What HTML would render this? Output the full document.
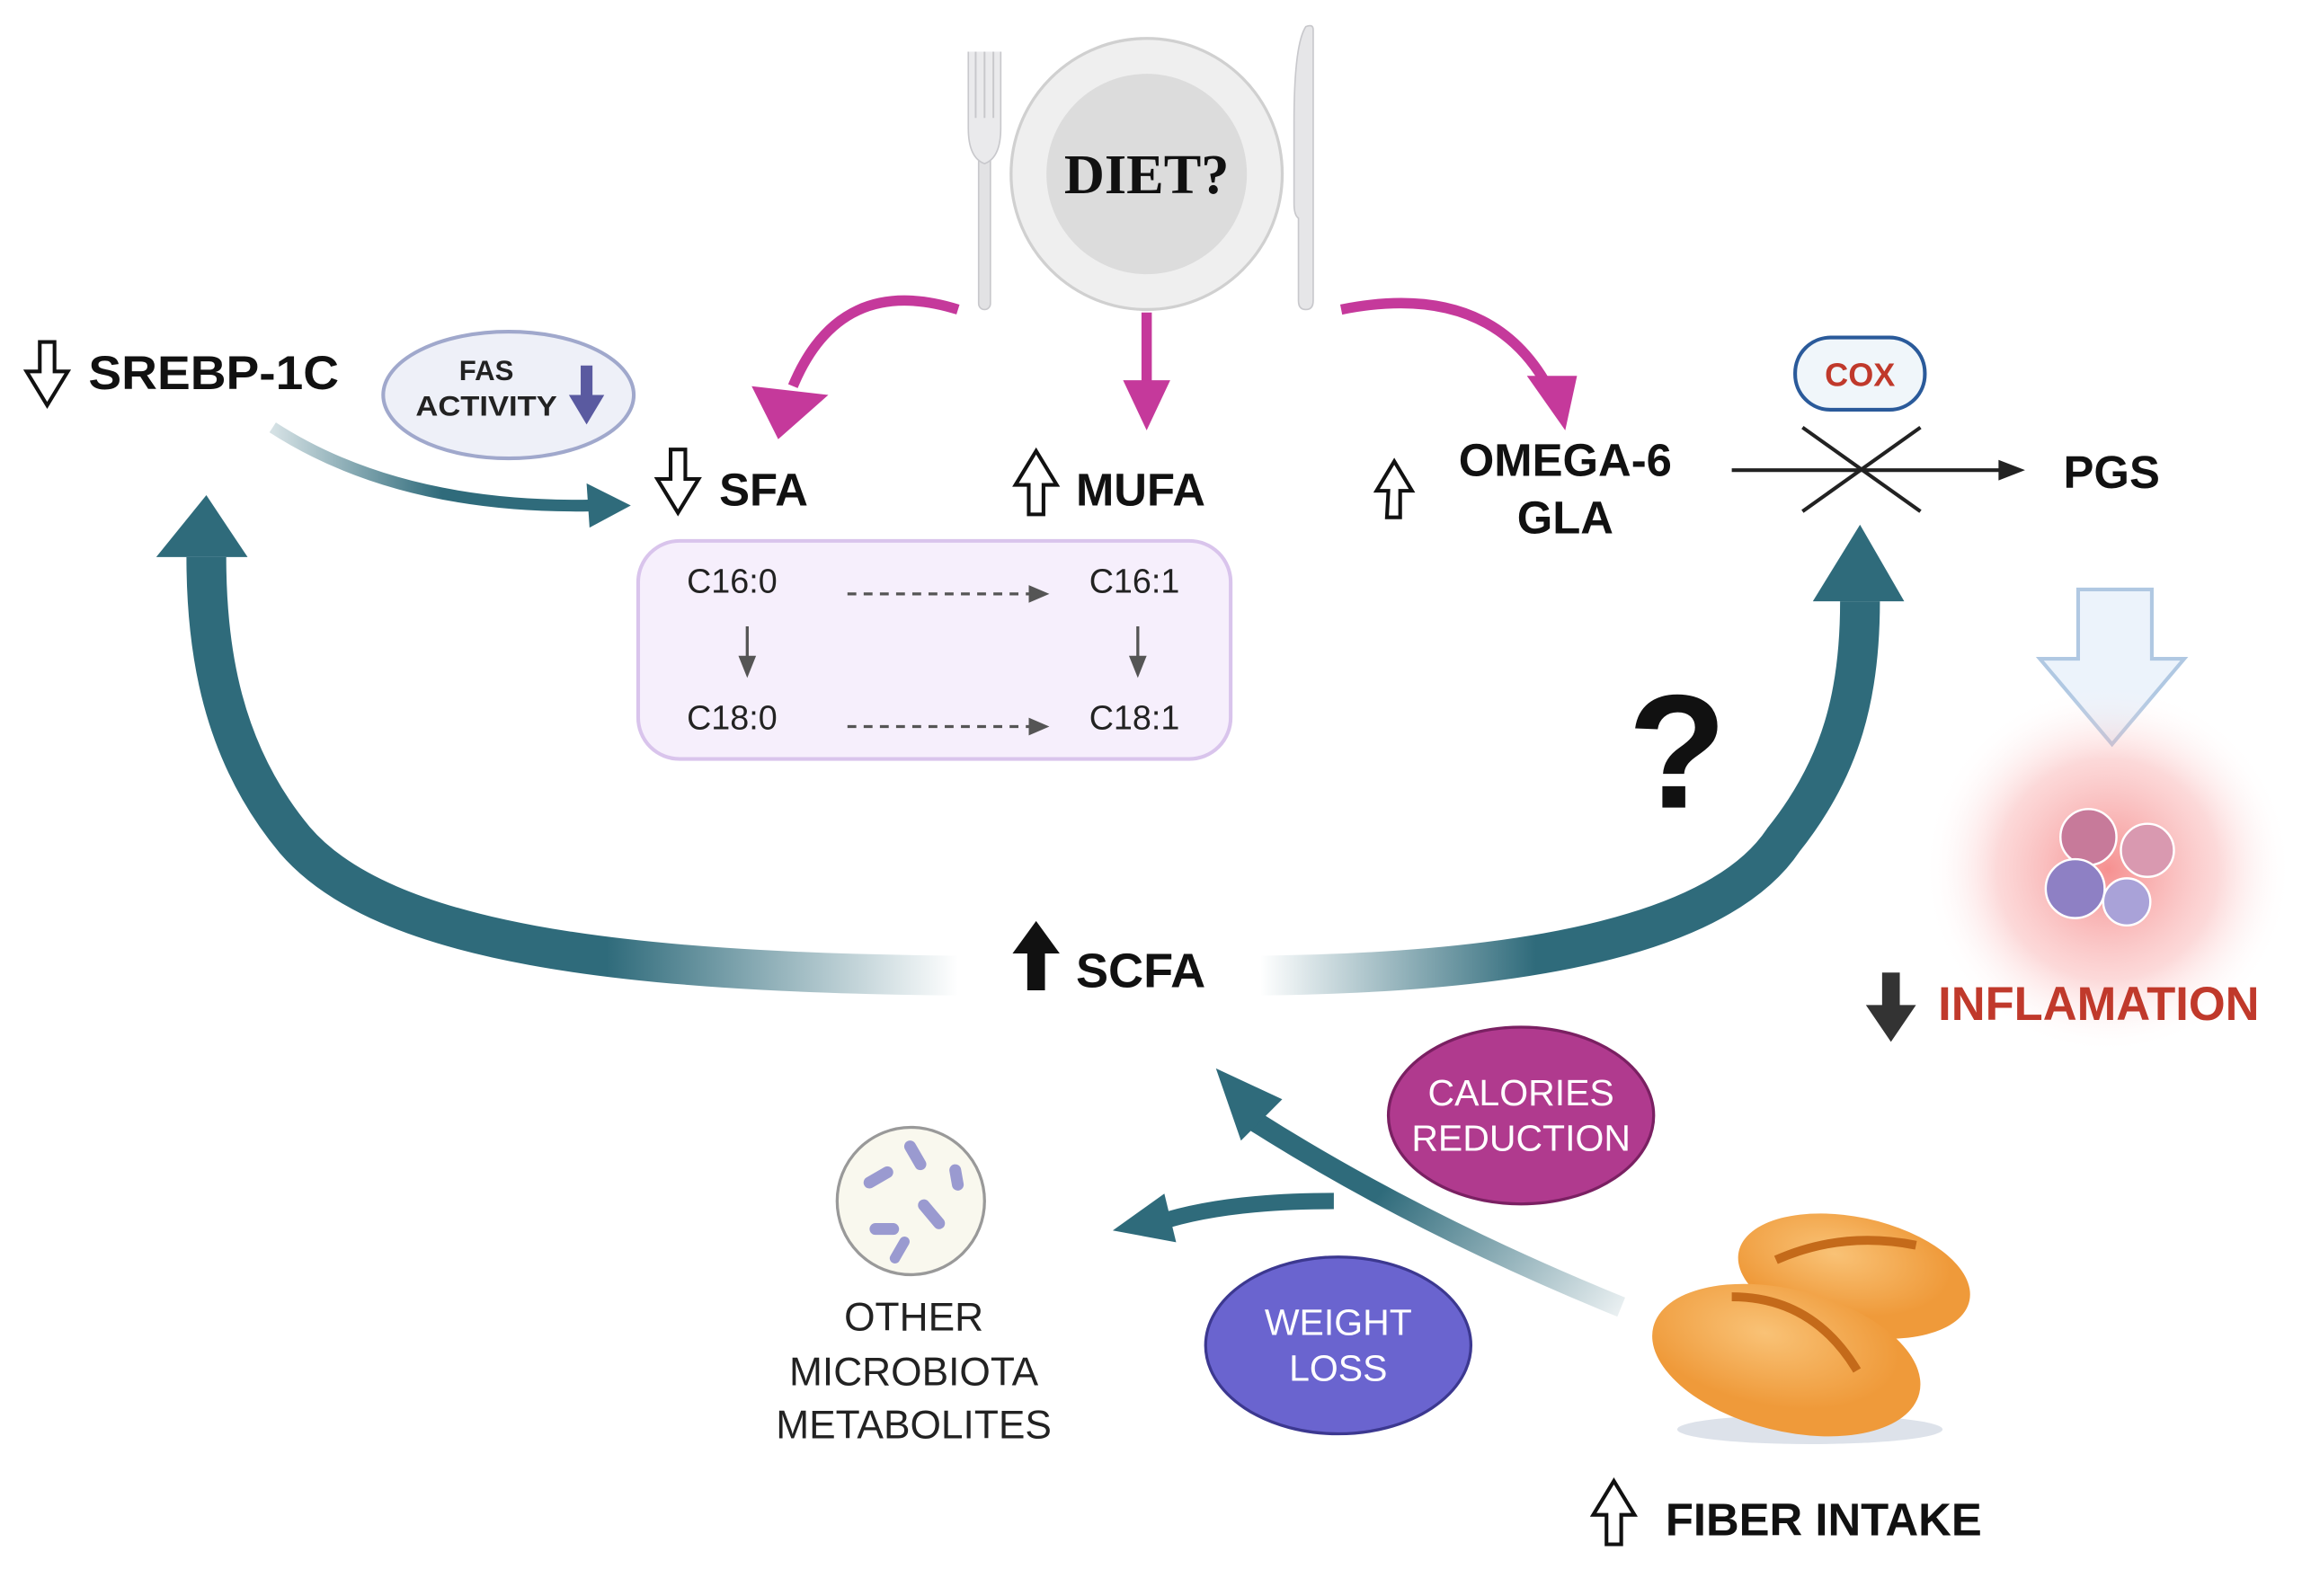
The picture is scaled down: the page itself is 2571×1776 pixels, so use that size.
<!DOCTYPE html>
<html><head><meta charset="utf-8"><style>
html,body{margin:0;padding:0;background:#fff}
svg{display:block}
text{font-family:"Liberation Sans",sans-serif}
</style></head><body>
<svg width="2571" height="1776" viewBox="0 0 1568 1083" xmlns="http://www.w3.org/2000/svg">
<defs>
<linearGradient id="gl" x1="650" y1="0" x2="120" y2="0" gradientUnits="userSpaceOnUse">
<stop offset="0" stop-color="#2f6b7b" stop-opacity="0"/><stop offset="0.45" stop-color="#2f6b7b"/><stop offset="1" stop-color="#2f6b7b"/></linearGradient>
<linearGradient id="gr" x1="855" y1="0" x2="1270" y2="0" gradientUnits="userSpaceOnUse">
<stop offset="0" stop-color="#2f6b7b" stop-opacity="0"/><stop offset="0.45" stop-color="#2f6b7b"/><stop offset="1" stop-color="#2f6b7b"/></linearGradient>
<linearGradient id="gb" x1="1100" y1="890" x2="960" y2="780" gradientUnits="userSpaceOnUse">
<stop offset="0" stop-color="#2f6b7b" stop-opacity="0.1"/><stop offset="1" stop-color="#2f6b7b"/></linearGradient>
<linearGradient id="gs" x1="185" y1="0" x2="300" y2="0" gradientUnits="userSpaceOnUse">
<stop offset="0" stop-color="#2f6b7b" stop-opacity="0.2"/><stop offset="1" stop-color="#2f6b7b"/></linearGradient>
<radialGradient id="glow"><stop offset="0" stop-color="#f26b6b" stop-opacity="0.75"/><stop offset="0.6" stop-color="#f8a0a0" stop-opacity="0.4"/><stop offset="1" stop-color="#fff" stop-opacity="0"/></radialGradient>
<radialGradient id="bread" cx="0.4" cy="0.35"><stop offset="0" stop-color="#f9c276"/><stop offset="1" stop-color="#ef9a3a"/></radialGradient>
</defs>

<!-- fork -->
<rect x="664" y="100" width="8" height="110" rx="4" fill="#e2e2e4" stroke="#c8c8cc"/>
<path d="M657 35 v52 q0 20 11 24 q11 -4 11 -24 v-52" fill="#eaeaec" stroke="#c8c8cc"/>
<g stroke="#c8c8cc" stroke-width="1.2"><line x1="662" y1="35" x2="662" y2="80"/><line x1="668" y1="35" x2="668" y2="80"/><line x1="674" y1="35" x2="674" y2="80"/></g>
<!-- plate -->
<circle cx="778" cy="118" r="92" fill="#efefef" stroke="#d0d0d0" stroke-width="2"/>
<circle cx="778" cy="118" r="68" fill="#dcdcdc"/>
<text x="778" y="131" font-weight="bold" font-size="38" text-anchor="middle" fill="#111" style="font-family:'Liberation Serif',serif">DIET?</text>
<!-- knife -->
<path d="M886 18 q-8 12 -8 65 v55 q0 8 3 10 v56 q0 6 5 6 q5 0 5 -6 v-184 q0 -4 -5 -2z" fill="#e6e6e8" stroke="#c8c8cc"/>

<!-- magenta arrows -->
<g fill="none" stroke="#c5399b" stroke-width="7">
<path d="M650 210 Q570 185 538 262"/>
<path d="M778 212 V262"/>
<path d="M910 210 Q1010 190 1050 262"/>
</g>
<g fill="#c5399b">
<polygon points="510,262 562,268 528,298"/>
<polygon points="762,258 794,258 778,292"/>
<polygon points="1036,255 1070,255 1062,292"/>
</g>

<!-- SREBP -->
<path d="M27 232 h10 v20 h9 l-14 23 l-14 -23 h9 z" fill="#fff" stroke="#111" stroke-width="2.5"/>
<text x="60" y="264" font-weight="bold" font-size="32" fill="#111" textLength="170" lengthAdjust="spacingAndGlyphs">SREBP-1C</text>
<ellipse cx="345" cy="268" rx="85" ry="43" fill="#eef0f8" stroke="#a0a8cc" stroke-width="2.5"/>
<text x="330" y="258" font-size="19" font-weight="bold" text-anchor="middle" fill="#222">FAS</text>
<text x="330" y="282" font-size="19" font-weight="bold" text-anchor="middle" fill="#222" textLength="96" lengthAdjust="spacingAndGlyphs">ACTIVITY</text>
<path d="M394 248 h8 v20 h8 l-12 20 l-12 -20 h8z" fill="#5a5aa0"/>
<path d="M185 290 Q270 345 400 343" fill="none" stroke="url(#gs)" stroke-width="8"/>
<polygon points="398,328 428,343 400,358" fill="#2f6b7b"/>

<!-- SFA MUFA -->
<path d="M455 305 h10 v20 h9 l-14 23 l-14 -23 h9 z" fill="#fff" stroke="#111" stroke-width="2.5"/>
<text x="488" y="343" font-weight="bold" font-size="31" fill="#111">SFA</text>
<path d="M698 349 h10 v-20 h9 l-14 -23 l-14 23 h9 z" fill="#fff" stroke="#111" stroke-width="2.5"/>
<text x="730" y="343" font-weight="bold" font-size="31" fill="#111">MUFA</text>

<rect x="433" y="367" width="402" height="148" rx="28" fill="#f6effc" stroke="#d9c4ec" stroke-width="2.5"/>
<g font-size="23" fill="#222">
<text x="466" y="402">C16:0</text><text x="739" y="402">C16:1</text>
<text x="466" y="495">C18:0</text><text x="739" y="495">C18:1</text>
</g>
<g stroke="#555" stroke-width="2" stroke-dasharray="6,5"><line x1="575" y1="403" x2="700" y2="403"/><line x1="575" y1="493" x2="700" y2="493"/></g>
<g fill="#555"><polygon points="698,397 712,403 698,409"/><polygon points="698,487 712,493 698,499"/>
<polygon points="501,445 513,445 507,460"/><polygon points="766,445 778,445 772,460"/></g>
<g stroke="#555" stroke-width="2"><line x1="507" y1="425" x2="507" y2="447"/><line x1="772" y1="425" x2="772" y2="447"/></g>

<!-- omega -->
<path d="M941 351 h9 v-18 h8 l-12 -20 l-12 20 h8 z" fill="#fff" stroke="#111" stroke-width="2.5"/>
<text x="1062" y="323" font-weight="bold" font-size="31" text-anchor="middle" fill="#111">OMEGA-6</text>
<text x="1062" y="362" font-weight="bold" font-size="31" text-anchor="middle" fill="#111">GLA</text>
<rect x="1218" y="229" width="88" height="49" rx="24" fill="#f0f6fa" stroke="#2a5a9a" stroke-width="2.5"/>
<text x="1262" y="262" font-size="22" font-weight="bold" text-anchor="middle" fill="#c0392b">COX</text>
<line x1="1175" y1="319" x2="1360" y2="319" stroke="#222" stroke-width="2.5"/>
<polygon points="1356,312 1374,319 1356,326" fill="#222"/>
<g stroke="#222" stroke-width="2.5"><line x1="1223" y1="290" x2="1303" y2="347"/><line x1="1223" y1="347" x2="1303" y2="290"/></g>
<text x="1400" y="331" font-weight="bold" font-size="31" fill="#111">PGS</text>

<path d="M1410 400 h50 v47 h22 l-49 58 l-49 -58 h26 z" fill="#ecf3fb" stroke="#b0c8e2" stroke-width="2.5"/>
<circle cx="1430" cy="590" r="125" fill="url(#glow)"/>
<g stroke="#fff" stroke-width="1.5">
<circle cx="1417" cy="568" r="19" fill="#c77a9a"/>
<circle cx="1457" cy="577" r="18" fill="#d999b0"/>
<circle cx="1408" cy="603" r="20" fill="#8e80c4"/>
<circle cx="1443" cy="612" r="16" fill="#a9a2d8"/>
</g>
<path d="M1277 660 h12 v22 h11 l-17 25 l-17 -25 h11 z" fill="#333"/>
<text x="1315" y="692" font-weight="bold" font-size="32" fill="#c0392b">INFLAMATION</text>

<!-- big teal arrows -->
<path d="M650 662 C420 660 260 640 200 570 C150 510 140 440 140 378" fill="none" stroke="url(#gl)" stroke-width="27"/>
<polygon points="106,378 168,378 140,336" fill="#2f6b7b"/>
<path d="M855 662 C1050 660 1170 630 1210 570 C1250 520 1262 470 1262 408" fill="none" stroke="url(#gr)" stroke-width="27"/>
<polygon points="1230,408 1292,408 1262,356" fill="#2f6b7b"/>

<path d="M697 672 v-25 h-10 l16 -22 l16 22 h-10 v25 z" fill="#111"/>
<text x="730" y="670" font-weight="bold" font-size="33" fill="#111">SCFA</text>
<text x="1138" y="548" font-weight="bold" font-size="110" text-anchor="middle" fill="#111">?</text>

<!-- bottom -->
<path d="M1100 887 Q960 830 850 760" fill="none" stroke="url(#gb)" stroke-width="14"/>
<polygon points="825,725 870,746 842,774" fill="#2f6b7b"/>
<path d="M905 815 Q830 815 785 830" fill="none" stroke="#2f6b7b" stroke-width="11"/>
<polygon points="755,835 790,810 798,843" fill="#2f6b7b"/>

<ellipse cx="1032" cy="757" rx="90" ry="60" fill="#b03a8e" stroke="#7a2062" stroke-width="2"/>
<text x="1032" y="750" font-size="25" text-anchor="middle" fill="#fff">CALORIES</text>
<text x="1032" y="781" font-size="25" text-anchor="middle" fill="#fff">REDUCTION</text>
<ellipse cx="908" cy="913" rx="90" ry="60" fill="#6a64cf" stroke="#3c3890" stroke-width="2"/>
<text x="908" y="906" font-size="25" text-anchor="middle" fill="#fff">WEIGHT</text>
<text x="908" y="937" font-size="25" text-anchor="middle" fill="#fff">LOSS</text>

<ellipse cx="618" cy="815" rx="50" ry="50" fill="#f9f8ee" stroke="#999" stroke-width="2"/>
<g fill="#9a9ad0">
<rect x="585" y="795" width="22" height="8" rx="4" transform="rotate(-30 596 799)"/>
<rect x="610" y="780" width="22" height="8" rx="4" transform="rotate(60 621 784)"/>
<rect x="620" y="820" width="24" height="8" rx="4" transform="rotate(50 632 824)"/>
<rect x="590" y="830" width="20" height="8" rx="4"/>
<rect x="640" y="795" width="18" height="8" rx="4" transform="rotate(80 649 799)"/>
<rect x="600" y="845" width="20" height="7" rx="3.5" transform="rotate(-60 610 848)"/>
</g>
<g font-size="27" text-anchor="middle" fill="#222">
<text x="620" y="903">OTHER</text><text x="620" y="940">MICROBIOTA</text><text x="620" y="976">METABOLITES</text>
</g>

<ellipse cx="1228" cy="970" rx="90" ry="10" fill="#dde2ea"/>
<ellipse cx="1258" cy="866" rx="80" ry="40" fill="url(#bread)" transform="rotate(12 1258 866)"/>
<path d="M1205 855 Q1250 835 1300 845" stroke="#c46a1a" stroke-width="6" fill="none"/>
<ellipse cx="1212" cy="923" rx="93" ry="48" fill="url(#bread)" transform="rotate(14 1212 923)"/>
<path d="M1175 880 Q1230 880 1260 930" stroke="#c46a1a" stroke-width="6" fill="none"/>

<path d="M1090 1048 h10 v-20 h9 l-14 -23 l-14 23 h9 z" fill="#fff" stroke="#111" stroke-width="2.5"/>
<text x="1130" y="1042" font-weight="bold" font-size="31" fill="#111">FIBER INTAKE</text>
</svg>
</body></html>
